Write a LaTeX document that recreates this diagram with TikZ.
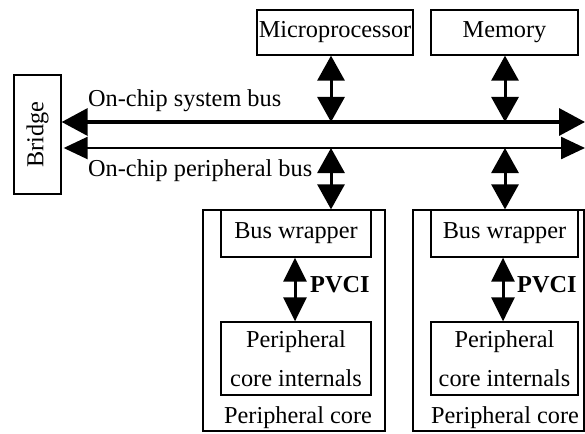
\documentclass[tikz,border=0pt]{standalone}
\usepackage{fontspec}
\setmainfont{Liberation Serif}
\usetikzlibrary{arrows.meta}
\begin{document}
\begin{tikzpicture}[x=1pt,y=-1pt,
  box/.style={draw,line width=1.3pt,inner sep=0pt,align=center,font=\fontsize{24.3}{39}\selectfont},
  lbl/.style={inner sep=0pt,font=\fontsize{24.3}{28}\selectfont},
  bigdbl/.style={{Triangle[length=25pt,width=27pt]}-{Triangle[length=25pt,width=27pt]},line width=3pt},
  smdbl/.style={{Triangle[length=24pt,width=23pt]}-{Triangle[length=24pt,width=23pt]},line width=3pt},
  sysbus/.style={{Triangle[length=26pt,width=27pt]}-{Triangle[length=26pt,width=27pt]},line width=3.5pt},
  perbus/.style={{Triangle[length=24pt,width=22pt]}-{Triangle[length=24pt,width=22pt]},line width=2.5pt}]
\useasboundingbox (0,0) rectangle (585,433);
% top boxes
\node[box,minimum width=156pt,minimum height=45pt] (mp) at (335,32.5) {Microprocessor};
\node[box,minimum width=147pt,minimum height=45pt] (mem) at (504.5,32.5) {Memory};
\node[box,minimum width=47pt,minimum height=119pt] (bridge) at (37.5,134.5) {\rotatebox{90}{Bridge}};
% bus coordinates
\coordinate (sbR) at (585,122);
\coordinate (pbR) at (585,148);
\coordinate (tapA) at (331,122);
\coordinate (tapB) at (331,148);
\coordinate (tapC) at (505,122);
\coordinate (tapD) at (505,148);
% buses
\draw[sysbus] (bridge.east |- sbR) -- (sbR);
\draw[perbus] ([xshift=2pt]bridge.east |- pbR) -- (pbR);
\node[lbl,anchor=west] (sbl) at (88,101) {On-chip system bus};
\node[lbl,anchor=west] (pbl) at (88,171) {On-chip peripheral bus};
% cores
\node[box,minimum width=182pt,minimum height=221pt] (core1) at (294,320.5) {};
\node[box,minimum width=171pt,minimum height=221pt] (core2) at (498.5,320.5) {};
\node[box,minimum width=150pt,minimum height=47pt] (bw1) at (296,233.5) {Bus wrapper};
\node[box,minimum width=147pt,minimum height=47pt] (bw2) at (504.5,233.5) {Bus wrapper};
\node[box,minimum width=150pt,minimum height=73pt] (ci1) at (296,358.5) {Peripheral\\core internals};
\node[box,minimum width=147pt,minimum height=73pt] (ci2) at (504.5,358.5) {Peripheral\\core internals};
\node[lbl] (pc1) at (298,418) {Peripheral core};
\node[lbl] (pc2) at (505,418) {Peripheral core};
% vertical connectors
\draw[bigdbl] (mp.south -| tapA) -- (tapA);
\draw[bigdbl] (mem.south -| tapC) -- (tapC);
\draw[bigdbl] (tapB) -- (tapB |- core1.north);
\draw[bigdbl] (tapD) -- (tapD |- core2.north);
\draw[smdbl] (bw1.south -| 295,0) -- (ci1.north -| 295,0);
\draw[smdbl] (bw2.south -| 503,0) -- (ci2.north -| 503,0);
\node[lbl,anchor=west,font=\fontsize{24.3}{28}\selectfont\bfseries] (pv1) at (310,285) {PVCI};
\node[lbl,anchor=west,font=\fontsize{24.3}{28}\selectfont\bfseries] (pv2) at (517,285) {PVCI};
\end{tikzpicture}
\end{document}
